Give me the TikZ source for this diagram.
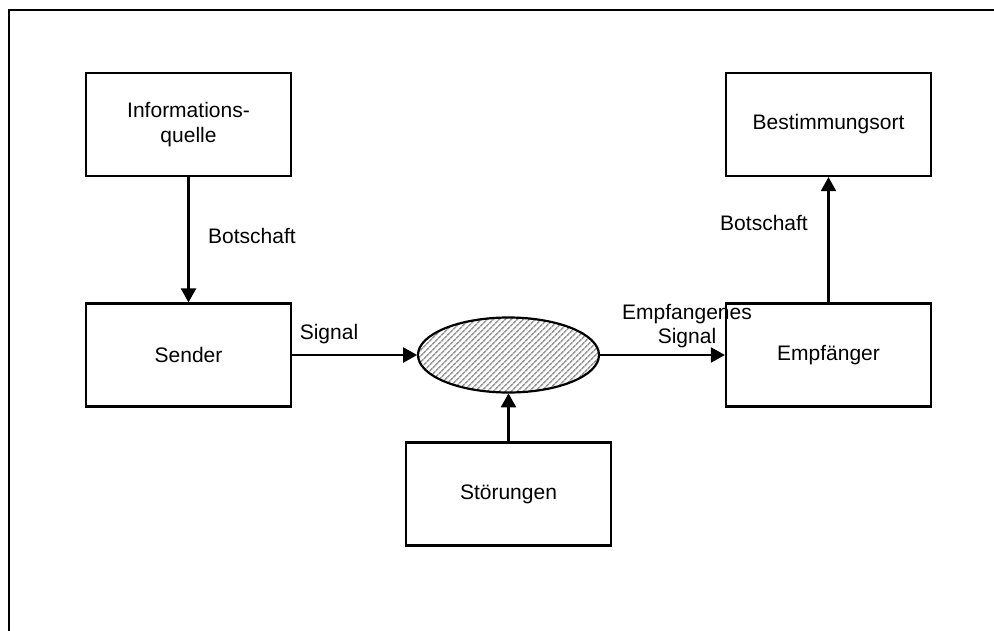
\documentclass[tikz,border=0pt]{standalone}
\usepackage{fontspec}
\setmainfont{Liberation Sans}
\usetikzlibrary{arrows.meta,shapes.geometric,patterns.meta}
\begin{document}
\begin{tikzpicture}[x=1pt,y=-1pt,
  every node/.style={font=\fontsize{21}{24.5}\selectfont},
  block/.style={draw, line width=2.2pt, rectangle, minimum width=205pt, minimum height=103pt, align=center, inner sep=0pt},
  channel/.style={draw, line width=2.2pt, ellipse, minimum width=181pt, minimum height=75pt, inner sep=0pt,
    pattern={Lines[angle=45,distance=4pt,line width=1.7pt]}, pattern color=black!40},
  arr/.style={line width=2.2pt, -{Triangle[length=14pt,width=15pt]}},
  lbl/.style={align=center, inner sep=0pt}]
  \useasboundingbox (0,0) rectangle (994,630);
  % page frame (left and top edges)
  \draw[line width=2.2pt] (9,631) -- (9,10) -- (995,10);

  % blocks
  \node[block] (quelle) at (188.5,124.5) {Informations-\\quelle};
  \node[block] (sender) at (188.5,355) {Sender};
  \node[block] (ziel)   at (828.5,124.5) {Bestimmungsort};
  \node[block] (empf)   at (828.5,355) {Empfänger};
  \node[block] (stoer)  at (508.5,494) {Störungen};
  \node[channel] (kanal) at (508.5,355) {};

  % connectors
  \draw[arr] (quelle) -- (sender);
  \draw[arr] (sender.east) -- (kanal.west);
  \draw[arr] (kanal.east) -- (empf.west);
  \draw[arr] (stoer.north) -- (kanal.south);
  \draw[arr] (empf.north) -- (ziel.south);

  % connector labels
  \node[lbl] (l1) at (252,236) {Botschaft};
  \node[lbl] (l2) at (329,334) {Signal};
  \node[lbl] (l3) at (687,326) {Empfangenes\\Signal};
  \node[lbl] (l4) at (764,223) {Botschaft};
\end{tikzpicture}
\end{document}
